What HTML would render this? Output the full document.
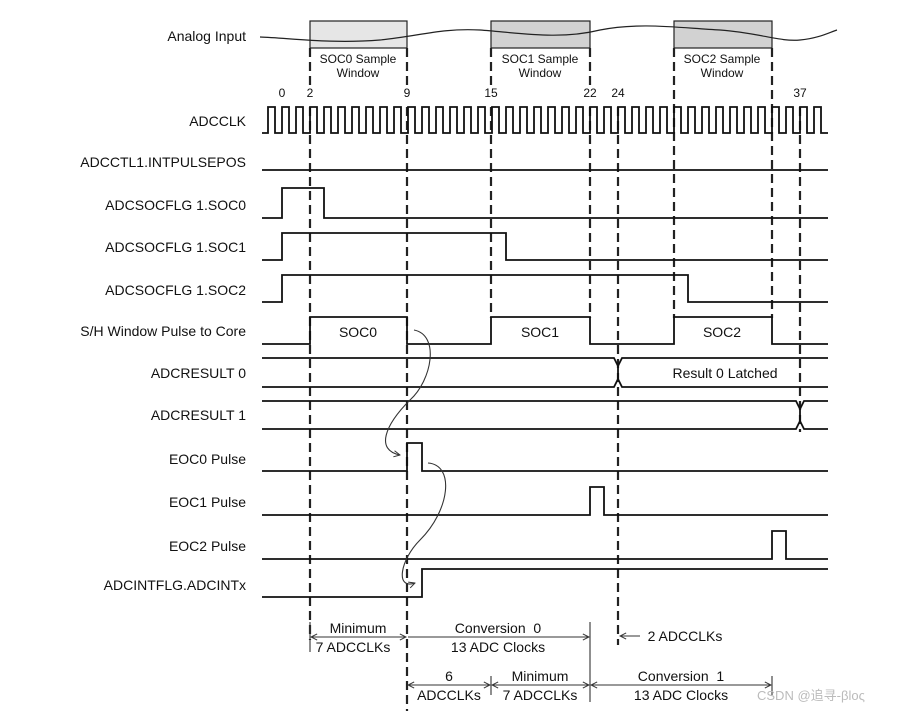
<!DOCTYPE html>
<html><head><meta charset="utf-8"><style>
html,body{margin:0;padding:0;background:#fff;}
svg{display:block;font-family:"Liberation Sans",Arial,sans-serif;}
</style></head><body>
<svg width="900" height="711" viewBox="0 0 900 711" xmlns="http://www.w3.org/2000/svg">
<defs>
<marker id="ah" viewBox="0 0 10 10" refX="9" refY="5" markerWidth="7" markerHeight="7" orient="auto"><path d="M1,1 L9,5 L1,9" fill="none" stroke="#333" stroke-width="1.3"/></marker>
</defs>
<g font-size="14" fill="#111" text-anchor="end">
<text x="246" y="41">Analog Input</text>
<text x="246" y="126">ADCCLK</text>
<text x="246" y="167">ADCCTL1.INTPULSEPOS</text>
<text x="246" y="210">ADCSOCFLG 1.SOC0</text>
<text x="246" y="252">ADCSOCFLG 1.SOC1</text>
<text x="246" y="295">ADCSOCFLG 1.SOC2</text>
<text x="246" y="336">S/H Window Pulse to Core</text>
<text x="246" y="378">ADCRESULT 0</text>
<text x="246" y="420">ADCRESULT 1</text>
<text x="246" y="464">EOC0 Pulse</text>
<text x="246" y="507">EOC1 Pulse</text>
<text x="246" y="551">EOC2 Pulse</text>
<text x="246" y="590">ADCINTFLG.ADCINTx</text>
</g>
<rect x="310" y="21" width="97" height="27" fill="#e6e6e6" stroke="#222" stroke-width="1.2"/>
<rect x="491" y="21" width="99" height="27" fill="#d2d2d2" stroke="#222" stroke-width="1.2"/>
<rect x="674" y="21" width="98" height="27" fill="#d2d2d2" stroke="#222" stroke-width="1.2"/>
<path d="M260,37 C290,38 330,44 380,40 C420,36 440,28 480,30 C520,33 560,40 600,30 C640,22 680,28 720,30 C760,33 780,42 800,40 C820,38 830,32 837,30" fill="none" stroke="#222" stroke-width="1.2"/>
<g font-size="12" fill="#111" text-anchor="middle">
<text x="358" y="63">SOC0 Sample</text><text x="358" y="77">Window</text>
<text x="540" y="63">SOC1 Sample</text><text x="540" y="77">Window</text>
<text x="722" y="63">SOC2 Sample</text><text x="722" y="77">Window</text>
<text x="282" y="97">0</text><text x="310" y="97">2</text><text x="407" y="97">9</text>
<text x="491" y="97">15</text><text x="590" y="97">22</text><text x="618" y="97">24</text><text x="800" y="97">37</text>
</g>
<g stroke="#222" stroke-width="2.2" stroke-dasharray="9,5" fill="none">
<line x1="310" y1="48" x2="310" y2="86"/><line x1="310" y1="107" x2="310" y2="640"/>
<line x1="407" y1="48" x2="407" y2="86"/><line x1="407" y1="107" x2="407" y2="711"/>
<line x1="491" y1="48" x2="491" y2="86"/><line x1="491" y1="107" x2="491" y2="318"/>
<line x1="590" y1="48" x2="590" y2="86"/><line x1="590" y1="107" x2="590" y2="318"/>
<line x1="674" y1="48" x2="674" y2="318"/>
<line x1="772" y1="48" x2="772" y2="318"/>
<line x1="618" y1="107" x2="618" y2="645"/>
<line x1="800" y1="107" x2="800" y2="432"/>
</g>
<g stroke="#111" stroke-width="1.8" fill="none">
<path d="M262,133 H268
v-26h7v26h7 v-26h7v26h7 v-26h7v26h7 v-26h7v26h7 v-26h7v26h7 v-26h7v26h7 v-26h7v26h7 v-26h7v26h7 v-26h7v26h7 v-26h7v26h7
v-26h7v26h7 v-26h7v26h7 v-26h7v26h7 v-26h7v26h7 v-26h7v26h7 v-26h7v26h7 v-26h7v26h7 v-26h7v26h7 v-26h7v26h7 v-26h7v26h7
v-26h7v26h7 v-26h7v26h7 v-26h7v26h7 v-26h7v26h7 v-26h7v26h7 v-26h7v26h7 v-26h7v26h7 v-26h7v26h7 v-26h7v26h7 v-26h7v26h7
v-26h7v26h7 v-26h7v26h7 v-26h7v26h7 v-26h7v26h7 v-26h7v26h7 v-26h7v26h7 v-26h7v26h7 v-26h7v26h7 v-26h7v26h7 v-26h7v26h7"/>
<line x1="262" y1="170" x2="828" y2="170"/>
<path d="M262,218 H282 V188 H324 V218 H828"/>
<path d="M262,260 H282 V233 H506 V260 H828"/>
<path d="M262,302 H282 V275 H688 V302 H828"/>
<path d="M262,344 H310 V317 H407 V344 H491 V317 H590 V344 H674 V317 H772 V344 H828"/>
<path d="M262,358 H614 L618,366 L622,358 H828 M262,387 H614 L618,379 L622,387 H828 M618,366 V379"/>
<path d="M262,401 H796 L800,409 L804,401 H828 M262,429 H796 L800,421 L804,429 H828 M800,409 V421"/>
<path d="M262,471 H407 V443 H422 V471 H828"/>
<path d="M262,515 H590 V487 H604 V515 H828"/>
<path d="M262,559 H772 V531 H786 V559 H828"/>
<path d="M262,597 H422 V569 H828"/>
</g>
<g font-size="14" fill="#111" text-anchor="middle">
<text x="358" y="337">SOC0</text><text x="540" y="337">SOC1</text><text x="722" y="337">SOC2</text>
<text x="725" y="378">Result 0 Latched</text>
</g>
<g stroke="#333" stroke-width="1.1" fill="none">
<path d="M414,330 C440,335 432,380 410,400 C385,425 375,450 400,455" marker-end="url(#ah)"/>
<path d="M428,463 C455,465 450,510 420,540 C400,560 395,590 415,583" marker-end="url(#ah)"/>
</g>
<g stroke="#333" stroke-width="1.1" fill="none">
<line x1="310" y1="622" x2="310" y2="652"/>
<line x1="590" y1="622" x2="590" y2="702"/>
<line x1="311" y1="637" x2="406" y2="637" marker-end="url(#ah)"/>
<line x1="406" y1="637" x2="311" y2="637" marker-end="url(#ah)"/>
<line x1="408" y1="637" x2="589" y2="637" marker-end="url(#ah)"/>
<line x1="640" y1="636" x2="620" y2="636" marker-end="url(#ah)"/>
<line x1="408" y1="685" x2="490" y2="685" marker-end="url(#ah)"/>
<line x1="490" y1="685" x2="408" y2="685" marker-end="url(#ah)"/>
<line x1="492" y1="685" x2="589" y2="685" marker-end="url(#ah)"/>
<line x1="589" y1="685" x2="492" y2="685" marker-end="url(#ah)"/>
<line x1="591" y1="685" x2="771" y2="685" marker-end="url(#ah)"/>
<line x1="771" y1="685" x2="591" y2="685" marker-end="url(#ah)"/>
<line x1="491" y1="676" x2="491" y2="695"/>
<line x1="772" y1="676" x2="772" y2="695"/>
</g>
<g font-size="14" fill="#111" text-anchor="middle">
<text x="358" y="633">Minimum</text><text x="353" y="652">7 ADCCLKs</text>
<text x="498" y="633">Conversion&#160; 0</text><text x="498" y="652">13 ADC Clocks</text>
<text x="685" y="641">2 ADCCLKs</text>
<text x="449" y="681">6</text><text x="449" y="700">ADCCLKs</text>
<text x="540" y="681">Minimum</text><text x="540" y="700">7 ADCCLKs</text>
<text x="681" y="681">Conversion&#160; 1</text><text x="681" y="700">13 ADC Clocks</text>
</g>
<text x="757" y="700" font-size="13" fill="#bbb" font-family="Liberation Sans,'Noto Sans CJK SC',sans-serif">CSDN @追寻-βloς</text>
</svg>
</body></html>
